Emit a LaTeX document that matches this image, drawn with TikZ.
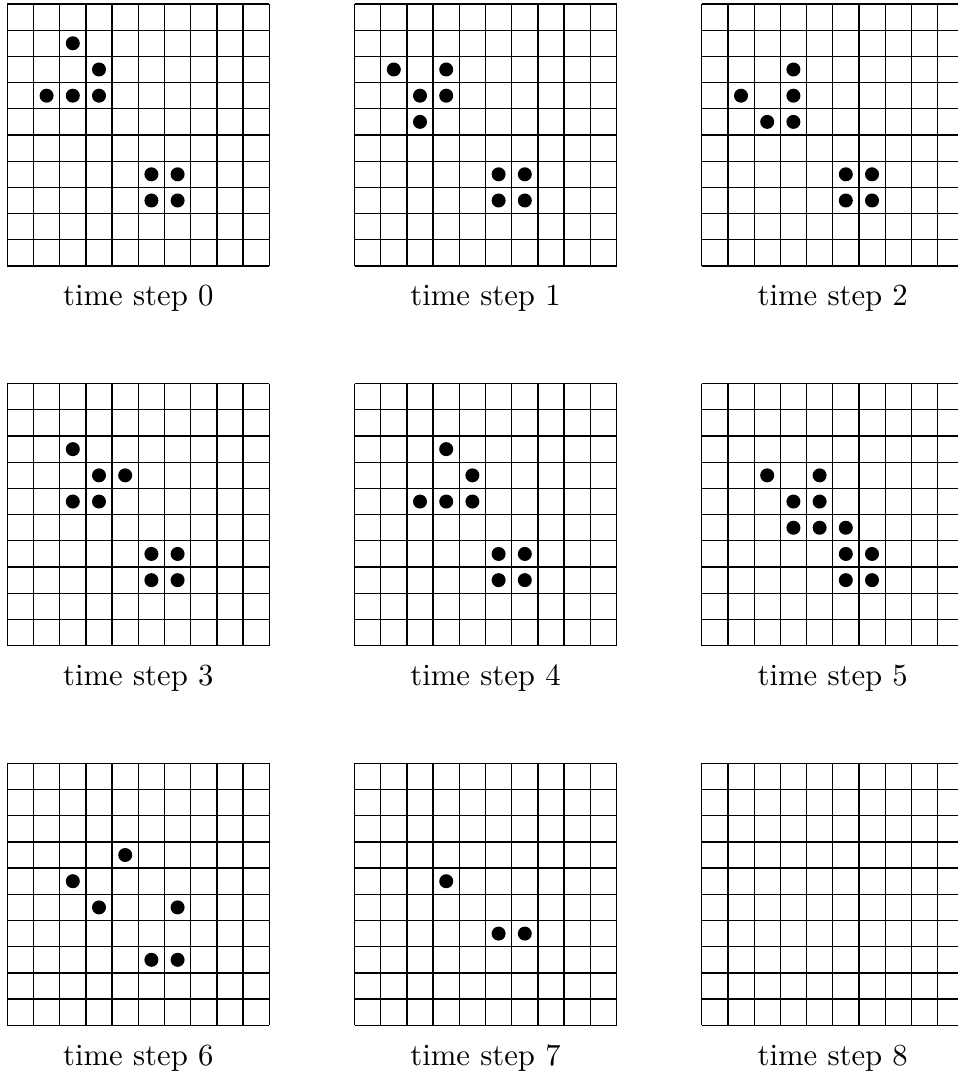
\documentclass[tikz,border=0pt]{standalone}
\tikzset{
  gridline/.style={draw=black, line width=0.4pt},
  cellon/.style={fill=black},
  steplabel/.style={anchor=base, inner sep=0pt}
}
\newcommand\lifegrid[4]{%
  \begin{scope}[shift={(7.3+#1*347.2, 4+#2*379.65)}]
    \foreach \i in {0,...,10} {
      \draw[gridline] (\i*26.2,0) -- (\i*26.2,262);
      \draw[gridline] (0,\i*26.2) -- (262,\i*26.2);
    }
    \foreach \c/\r in {#4} {
      \fill[cellon] (\c*26.2+13.1, \r*26.2+13.1) circle[radius=7];
    }
    \node[steplabel] (label#3) at (131,301.7) {time step #3};
  \end{scope}%
}
\begin{document}
\begin{tikzpicture}[x=0.3257pt,y=-0.3257pt]
\useasboundingbox (0,0) rectangle (958,1074);
\lifegrid{0}{0}{0}{2/1,3/2,1/3,2/3,3/3,5/6,6/6,5/7,6/7}
\lifegrid{1}{0}{1}{1/2,3/2,2/3,3/3,2/4,5/6,6/6,5/7,6/7}
\lifegrid{2}{0}{2}{3/2,1/3,3/3,2/4,3/4,5/6,6/6,5/7,6/7}
\lifegrid{0}{1}{3}{2/2,3/3,4/3,2/4,3/4,5/6,6/6,5/7,6/7}
\lifegrid{1}{1}{4}{3/2,4/3,2/4,3/4,4/4,5/6,6/6,5/7,6/7}
\lifegrid{2}{1}{5}{2/3,4/3,3/4,4/4,3/5,4/5,5/5,5/6,6/6,5/7,6/7}
\lifegrid{0}{2}{6}{4/3,2/4,3/5,6/5,5/7,6/7}
\lifegrid{1}{2}{7}{3/4,5/6,6/6}
\lifegrid{2}{2}{8}{}
\end{tikzpicture}
\end{document}
